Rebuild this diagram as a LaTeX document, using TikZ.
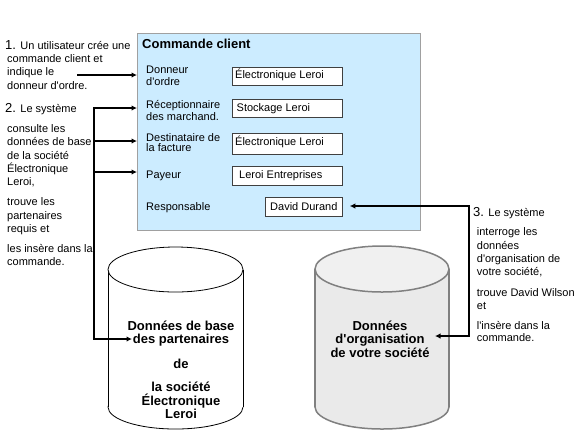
\documentclass[tikz,border=0pt]{standalone}
\usepackage{fontspec}
\setmainfont{Liberation Sans}[Ligatures=TeXOff]
\usetikzlibrary{arrows.meta}
\definecolor{panelblue}{RGB}{204,236,255}
\definecolor{panelborder}{RGB}{160,160,160}
\definecolor{cylgray}{RGB}{234,234,234}
\definecolor{cyltop}{RGB}{240,240,240}
\definecolor{cylborder}{RGB}{128,128,128}
\begin{document}
\begin{tikzpicture}[x=1bp,y=-1bp,
 txt/.style={anchor=base west,inner sep=0,font=\fontsize{11bp}{13bp}\selectfont},
 num/.style={anchor=base west,inner sep=0,font=\fontsize{13bp}{14bp}\selectfont},
 boldc/.style={anchor=base,inner sep=0,font=\fontsize{13bp}{14bp}\selectfont\bfseries},
 titletxt/.style={anchor=base west,inner sep=0,font=\fontsize{13bp}{14bp}\selectfont\bfseries},
 fieldbox/.style={draw=black!75,fill=white,line width=0.8bp,inner sep=0,anchor=north west},
 arr/.style={line width=1.6bp,-{Latex[length=5.5bp,width=5.5bp]}},
 trunk/.style={line width=1.6bp,line cap=rect}]
\useasboundingbox (0,0) rectangle (576,432);
\fill[white] (0,0) rectangle (576,432);

% panel
\node[draw=panelborder,fill=panelblue,line width=1.2bp,minimum width=283bp,minimum height=197bp,anchor=north west,inner sep=0] (panel) at (137,33) {};
\node[titletxt] (title) at (142,48) {Commande client};

% field labels
\node[txt] (l1a) at (146,73.3) {Donneur};
\node[txt] (l1b) at (146,85.3) {d'ordre};
\node[txt] (l2a) at (146,108.3) {Réceptionnaire};
\node[txt] (l2b) at (146,120) {des marchand.};
\node[txt] (l3a) at (146,141) {Destinataire de};
\node[txt] (l3b) at (146,151.7) {la facture};
\node[txt] (l4) at (146,178.3) {Payeur};
\node[txt] (l5) at (146,210) {Responsable};

% field boxes
\node[fieldbox,minimum width=110bp,minimum height=17.5bp] (b1) at (232,67) {};
\node[fieldbox,minimum width=110bp,minimum height=18bp] (b2) at (232,98.5) {};
\node[fieldbox,minimum width=110bp,minimum height=21bp] (b3) at (232,132.5) {};
\node[fieldbox,minimum width=110bp,minimum height=19bp] (b4) at (232,165.5) {};
\node[fieldbox,minimum width=77bp,minimum height=19bp] (b5) at (265,196.5) {};
\node[txt] (v1) at (235,78.3) {Électronique Leroi};
\node[txt] (v2) at (236.5,111.7) {Stockage Leroi};
\node[txt] (v3) at (235,145) {Électronique Leroi};
\node[txt] (v4) at (239,178.3) {Leroi Entreprises};
\node[txt] (v5) at (270,210) {David Durand};

% left text
\node[num] (n1) at (5,49.3) {1.};
\node[txt] (t1a) at ([xshift=4bp]n1.base east) {Un utilisateur crée une};
\node[txt] (t1b) at (7,62.3) {commande client et};
\node[txt] (t1c) at (7,75.7) {indique le};
\node[txt] (t1d) at (7,89.3) {donneur d'ordre.};
\node[num] (n2) at (5,112.3) {2.};
\node[txt] (t2a) at ([xshift=4bp]n2.base east) {Le système};
\node[txt] (t2b) at (7,132.3) {consulte les};
\node[txt] (t2c) at (7,145.7) {données de base};
\node[txt] (t2d) at (7,159) {de la société};
\node[txt] (t2e) at (7,172.3) {Électronique};
\node[txt] (t2f) at (7,185.7) {Leroi,};
\node[txt] (t2g) at (7,205.7) {trouve les};
\node[txt] (t2h) at (7,219) {partenaires};
\node[txt] (t2i) at (7,232.3) {requis et};
\node[txt] (t2j) at (7,252.3) {les insère dans la};
\node[txt] (t2k) at (7,265.7) {commande.};

% right text
\node[num] (n3) at (473,216.7) {3.};
\node[txt] (t3a) at ([xshift=4bp]n3.base east) {Le système};
\node[txt] (t3b) at (476.7,235.7) {interroge les};
\node[txt] (t3c) at (476.7,249) {données};
\node[txt] (t3d) at (476.7,262.3) {d'organisation de};
\node[txt] (t3e) at (476.7,275.7) {votre société,};
\node[txt] (t3f) at (476.7,296) {trouve David Wilson};
\node[txt] (t3g) at (476.7,309) {et};
\node[txt] (t3h) at (476.7,329.3) {l'insère dans la};
\node[txt] (t3i) at (476.7,341.7) {commande.};

% cylinder 1
\fill[white] (175.5,407) ellipse[x radius=67.5,y radius=22];
\draw[line width=0.8bp] (175.5,407) ellipse[x radius=67.5,y radius=22];
\fill[white] (108,269.5) rectangle (243,407);
\draw[line width=0.8bp] (108,269.5) -- (108,407) (243,269.5) -- (243,407);
\draw[fill=white,line width=0.8bp] (175.5,269.5) ellipse[x radius=67.5,y radius=22.5];

% cylinder 2
\fill[cylgray] (382,407) ellipse[x radius=67,y radius=22];
\draw[cylborder,line width=1.5bp] (382,407) ellipse[x radius=67,y radius=22];
\fill[cylgray] (315,269) rectangle (449,407);
\draw[cylborder,line width=1.5bp] (315,269) -- (315,407) (449,269) -- (449,407);
\draw[cylborder,fill=cyltop,line width=1.5bp] (382,269) ellipse[x radius=67,y radius=23];

% cylinder texts
\node[boldc] (c1a) at (181,330.7) {Données de base};
\node[boldc] (c1b) at (181,343.3) {des partenaires};
\node[boldc] (c1c) at (181,368.3) {de};
\node[boldc] (c1d) at (181,391.7) {la société};
\node[boldc] (c1e) at (181,405) {Électronique};
\node[boldc] (c1f) at (181,418.3) {Leroi};
\node[boldc] (c2a) at (380,330) {Données};
\node[boldc] (c2b) at (380,343.3) {d'organisation};
\node[boldc] (c2c) at (380,357) {de votre société};

% connectors
\coordinate (a1s) at (77,75);
\draw[arr] (a1s) -- (a1s -| panel.west);
\coordinate (tr1) at (94,108);
\coordinate (tr2) at (94,141);
\coordinate (tr3) at (94,172);
\coordinate (tr4) at (94,339);
\draw[trunk] (tr1) -- (tr4);
\draw[arr] (tr1) -- (tr1 -| panel.west);
\draw[arr] (tr2) -- (tr2 -| panel.west);
\draw[arr] (tr3) -- (tr3 -| panel.west);
\coordinate (c1in) at (132,339);
\draw[arr] (tr4) -- (c1in);
\coordinate (tr5) at (469,206);
\coordinate (tr6) at (469,336);
\draw[trunk] (tr5) -- (tr6);
\draw[arr,shorten >=7bp] (tr5) -- (tr5 -| b5.east);
\coordinate (c2in) at (435,336);
\draw[arr] (tr6) -- (c2in);
\end{tikzpicture}
\end{document}
